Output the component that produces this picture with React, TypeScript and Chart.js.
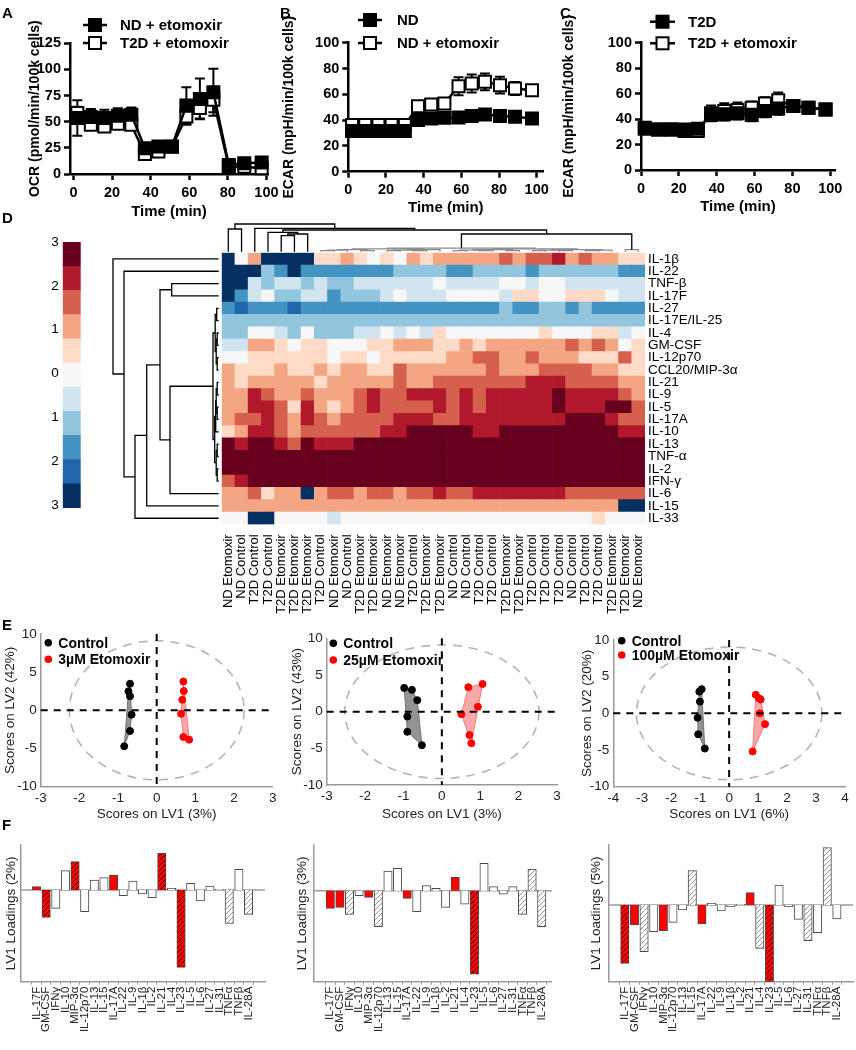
import React, { useEffect, useRef } from "react";
import { Chart, registerables } from "chart.js";

Chart.register(...registerables);

const FONT = "'Liberation Sans', Arial, Helvetica, sans-serif";
Chart.defaults.font.family = FONT;
Chart.defaults.color = "#000";

// ---------------- Panels A–C ----------------
const timeMin = [2, 9, 16, 23, 30, 37, 44, 51, 58.5, 65.5, 72.5, 80.5, 88.5, 97.5];
const timeTicks = [0, 20, 40, 60, 80, 100];
const ocrNdEto = [53.5, 54.6, 53.5, 55.8, 56.7, 24.7, 26.3, 26.3, 65.4, 71.8, 78.2, 8.7, 10.3, 10.9];
const ocrNdEtoErr = [17, 7.5, 8, 7, 7, 3, 2, 2, 17.5, 19.5, 22.5, 2, 2, 3];
const ocrT2dEto = [58.3, 47.1, 45.5, 48, 47, 19.2, 21.5, 26, 55, 63.1, 71, 7, 7, 5.5];
const ocrT2dEtoErr = [6, 4, 4, 4, 4, 3, 3, 2, 8, 10, 12, 2, 2, 3];
const ecarNd = [31.5, 31.5, 31.5, 31.5, 31.5, 40, 41.3, 41.8, 42, 43.1, 44.4, 43.1, 42.6, 41.3];
const ecarNdErr = [2, 2, 2, 2, 2, 2, 2, 2, 2, 2, 2, 2, 2, 2];
const ecarNdEto = [36.1, 36.1, 36.1, 36.1, 36.1, 50.8, 52.1, 52.9, 66.3, 68.4, 69.7, 67.1, 64.5, 63.2];
const ecarNdEtoErr = [2, 2, 2, 2, 2, 4, 3, 3, 7, 7, 6.5, 6.5, 5, 3];
const ecarT2d = [33.1, 31.8, 31.8, 31.8, 32.4, 43.3, 43.8, 44.6, 43.3, 46.4, 48.4, 50.2, 48.9, 47.6];
const ecarT2dErr = [3, 2, 2, 2, 2, 5, 5, 5, 5, 5, 5, 3, 3, 3];
const ecarT2dEto = [32.4, 31.8, 31.8, 30.6, 30.6, 44.6, 46.4, 47.1, 48.9, 52.2, 54.8, 50.2, 48.9, 47.6];
const ecarT2dEtoErr = [3, 2, 2, 3, 3, 6, 6, 6, 5, 5, 6, 3, 3, 3];

// ---------------- Panel D ----------------
const heatCols = [
  "ND Etomoxir", "ND Control", "T2D Control", "T2D Control", "T2D Etomoxir", "T2D Etomoxir",
  "T2D Etomoxir", "T2D Control", "ND Etomoxir", "ND Control", "T2D Etomoxir", "T2D Etomoxir",
  "ND Etomoxir", "ND Etomoxir", "T2D Control", "T2D Etomoxir", "T2D Etomoxir", "ND Control",
  "ND Control", "T2D Control", "T2D Control", "T2D Etomoxir", "T2D Etomoxir", "T2D Control",
  "T2D Control", "T2D Control", "ND Control", "T2D Control", "T2D Control", "T2D Etomoxir",
  "T2D Etomoxir", "ND Etomoxir",
];
const heatRowNames = [
  "IL-1β", "IL-22", "TNF-β", "IL-17F", "IL-27", "IL-17E/IL-25", "IL-4", "GM-CSF", "IL-12p70",
  "CCL20/MIP-3α", "IL-21", "IL-9", "IL-5", "IL-17A", "IL-10", "IL-13", "TNF-α", "IL-2", "IFN-γ",
  "IL-6", "IL-15", "IL-33",
];
// colour class per cell: 0 = -3 (dark blue) ... 5 = 0 ... A = +3 (dark red)
const heatLevels = [
  "05700006676565767777787889787766",
  "00032022222223333223333233333322",
  "00434434334444445444455455444444",
  "02453344233345444555546655666544",
  "21222122222222222222232233232222",
  "33333333333333333333333333333333",
  "33554353334454546555555565556645",
  "44776566555667776676777777878756",
  "55666666566566666778877877766686",
  "76667667677668777777877788887766",
  "76777776777778778888888999888877",
  "7798778777898899989899999A999987",
  "7799869767898888989899999A999AA8",
  "78898798788889998899999999AAA988",
  "67998788888899AAAAA99AAAAAAAAA99",
  "A9AA98A999AAAAAAAAAAAAAAAAAAAAAA",
  "AAAAAAAAAAAAAAAAAAAAAAAAAAAAAAAA",
  "AAAAAAAAAAAAAAAAAAAAAAAAAAAAAAAA",
  "89AAAAAAAAAAAAAAAAAAAAAAAAAAAAAA",
  "77867707887887889889999999888888",
  "77777777777777777777777777777700",
  "55005555455555555555555555556555",
];
const heatPalette = [
  "#053061", "#2166ac", "#4393c3", "#92c5de", "#d1e5f0", "#f7f7f7",
  "#fddbc7", "#f4a582", "#d6604d", "#b2182b", "#67001f",
];
const colorbarMin = -3.07;
const colorbarMax = 3;
const colorbarTicks = [3, 2, 1, 0, -1, -2, -3];
// dendrogram linkages: [childA, childB, height]; ids >= leaf count are earlier links
const colLinks: [number, number, number][] = [
  [0, 1, 22.7], [4, 5, 16], [33, 6, 17.7], [3, 34, 19.4],
  [7, 8, 1], [36, 9, 1.5], [10, 11, 1], [37, 38, 2], [12, 13, 1], [14, 15, 1],
  [40, 41, 1.5], [42, 16, 2], [39, 43, 2.8],
  [17, 18, 1], [19, 20, 1], [45, 46, 1.5], [21, 22, 1], [47, 48, 2], [23, 24, 1],
  [25, 26, 1], [50, 51, 1.5], [27, 28, 1], [53, 29, 1.5], [52, 54, 2], [49, 55, 2.8],
  [44, 56, 3.5], [30, 31, 2], [57, 58, 17.7], [35, 59, 21.7], [2, 60, 23.4], [32, 61, 27.7],
];
const rowLinks: [number, number, number][] = [
  [2, 3, 47], [4, 5, 2], [6, 7, 1.5], [8, 9, 1.5], [24, 25, 2.5], [23, 26, 3.5],
  [10, 11, 1.5], [12, 13, 1.5], [28, 29, 2.5], [30, 14, 3], [15, 16, 1.5], [17, 18, 1.5],
  [32, 33, 2.5], [31, 34, 4], [27, 35, 5.7], [36, 19, 48.7], [22, 37, 58.7],
  [38, 20, 72], [39, 21, 83.7], [1, 40, 94.7], [0, 41, 105.7],
];

// ---------------- Panel E ----------------
const e1Control = [[-0.69, 3.49], [-0.73, 2.5], [-0.69, 1.85], [-0.65, -0.57], [-0.69, -2.7], [-0.84, -4.7]];
const e1Etomoxir = [[0.69, 3.78], [0.7, 2.52], [0.66, 1.39], [0.63, -0.44], [0.69, -3.5], [0.84, -3.84]];
const e2Control = [[-0.98, 3.24], [-0.78, 2.97], [-0.64, 1.56], [-0.9, -0.67], [-0.9, -2.75], [-0.52, -4.57]];
const e2Etomoxir = [[0.51, -0.36], [0.69, 3.33], [1.06, 3.77], [0.94, 0.67], [0.72, -3.2], [0.77, -4.3]];
const e3Control = [[-0.95, 3.3], [-1.03, 2.96], [-1.01, 1.6], [-1.09, -0.6], [-1.07, -2.85], [-0.84, -4.8]];
const e3Etomoxir = [[0.92, 2.53], [1.03, 2.05], [1.09, 1.9], [1.06, 0], [1.24, -1.47], [0.81, -5.19]];
const ellipseRx = [2.26, 2.53, 3.2];
const ellipseRy = [9.1, 9.1, 9.05];

// ---------------- Panel F ----------------
const fCats = [
  "IL-17F", "GM-CSF", "IFNγ", "IL-10", "MIP-3α", "IL-12p70", "IL-13", "IL-15", "IL-17A",
  "IL-22", "IL-9", "IL-1β", "IL-2", "IL-21", "IL-4", "IL-23", "IL-5", "IL-6", "IL-27",
  "IL-31", "TNFα", "TNFβ", "IL-28A",
];
const f1Vals = [0.017, -0.137, -0.092, 0.097, 0.142, -0.108, 0.05, 0.062, 0.075, -0.028, 0.045, -0.02, -0.038, 0.183, 0.008, -0.387, 0.033, -0.055, 0.02, 0.003, -0.167, 0.103, -0.122];
const f2Vals = [-0.088, -0.083, -0.118, -0.025, -0.033, -0.18, 0.098, 0.112, -0.038, -0.105, 0.025, 0.012, -0.083, 0.067, -0.067, -0.417, 0.137, 0.02, -0.017, 0.02, -0.118, 0.108, -0.18];
const f3Vals = [-0.292, -0.1, -0.233, -0.133, -0.128, -0.087, -0.025, 0.172, -0.095, 0.008, -0.03, -0.008, 0.003, 0.062, -0.217, -0.383, 0.1, -0.008, -0.072, -0.178, -0.138, 0.287, -0.07];
// r = red, R = red hatched, w = white, g = grey hatched
const f1Style = "rRwwRwwwrwwwwRwRwwwwgwg";
const f2Style = "rrgwrgwwrwwwwrwRwwwwggg";
const f3Style = "RrgwrwwgrwwwwrgRwwwgwgw";

// ---------------- helpers ----------------
const fixW = (w: number) => (s: any) => { s.width = w; };
const fixH = (h: number) => (s: any) => { s.height = h; };

function ChartCanvas({ x, y, w, h, config }: { x: number; y: number; w: number; h: number; config: () => any }) {
  const ref = useRef<HTMLCanvasElement>(null);
  useEffect(() => {
    const chart = new Chart(ref.current as HTMLCanvasElement, config());
    return () => chart.destroy();
  }, []);
  return (
    <canvas ref={ref} width={w} height={h}
      style={{ position: "absolute", left: x, top: y, width: w, height: h }} />
  );
}

// ---------- line panels ----------
interface Series { label: string; values: number[]; err: number[]; filled: boolean }
function linePanel(o: any) {
  const series: Series[] = o.series;
  const errPlugin = {
    id: "errbars",
    beforeDatasetsDraw(chart: any) {
      const { ctx } = chart;
      const xs = chart.scales.x, ys = chart.scales.y;
      ctx.save();
      ctx.strokeStyle = "#000";
      ctx.lineWidth = 2;
      series.forEach((s) => s.values.forEach((v, i) => {
        const px = xs.getPixelForValue(timeMin[i]);
        const t = ys.getPixelForValue(v + s.err[i]);
        const b = ys.getPixelForValue(v - s.err[i]);
        ctx.beginPath();
        ctx.moveTo(px, t); ctx.lineTo(px, b);
        ctx.moveTo(px - 5, t); ctx.lineTo(px + 5, t);
        ctx.moveTo(px - 5, b); ctx.lineTo(px + 5, b);
        ctx.stroke();
      }));
      ctx.restore();
    },
  };
  const legendPlugin = {
    id: "lg",
    afterDraw(chart: any) {
      const { ctx } = chart;
      ctx.save();
      series.forEach((s, k) => {
        const y = o.legendY[k];
        ctx.strokeStyle = "#000";
        ctx.lineWidth = 2.5;
        ctx.beginPath(); ctx.moveTo(o.lx1, y); ctx.lineTo(o.lx2, y); ctx.stroke();
        const m = (o.lx1 + o.lx2) / 2;
        ctx.fillStyle = s.filled ? "#000" : "#fff";
        ctx.lineWidth = 2;
        ctx.fillRect(m - 6, y - 6, 12, 12);
        ctx.strokeRect(m - 6, y - 6, 12, 12);
        ctx.fillStyle = "#000";
        ctx.font = `bold 15px ${FONT}`;
        ctx.textAlign = "left";
        ctx.textBaseline = "middle";
        ctx.fillText(s.label, o.ltx, y + 1);
      });
      ctx.restore();
    },
  };
  const axisGrid = { display: true, drawOnChartArea: false, drawTicks: true, tickLength: 6, tickWidth: 2.5, tickColor: "#000", color: "#000" };
  const axisBorder = { display: true, color: "#000", width: 2.5 };
  return {
    type: "line",
    data: {
      datasets: series.map((s) => ({
        label: s.label,
        data: timeMin.map((t, i) => ({ x: t, y: s.values[i] })),
        borderColor: "#000", borderWidth: 2.5,
        pointStyle: "rect", pointRadius: 8.5,
        pointBackgroundColor: s.filled ? "#000" : "#fff",
        pointBorderColor: "#000", pointBorderWidth: 2,
        clip: false,
      })),
    },
    options: {
      responsive: false, animation: false, events: [],
      layout: { padding: { left: 0, top: o.areaTop, right: o.w - o.areaRight, bottom: 0 } },
      plugins: { legend: { display: false }, tooltip: { enabled: false } },
      scales: {
        x: {
          type: "linear", min: o.xMin, max: o.xMax,
          afterFit: fixH(o.h - o.areaBottom),
          afterBuildTicks: (a: any) => { a.ticks = timeTicks.map((v) => ({ value: v })); },
          grid: axisGrid, border: axisBorder,
          ticks: { font: { size: 14.5, weight: "bold" }, padding: 4, maxRotation: 0, autoSkip: false },
          title: { display: true, text: "Time (min)", font: { size: 15, weight: "bold" }, padding: { top: 0, bottom: o.xTitlePad } },
        },
        y: {
          type: "linear", min: 0, max: o.yMax,
          afterFit: fixW(o.axisLeft),
          grid: axisGrid, border: axisBorder,
          ticks: { stepSize: o.yStep, font: { size: 14.5, weight: "bold" }, padding: 3 },
          title: { display: true, text: o.yTitle, font: { size: 14, weight: "bold" }, padding: { top: o.yTitlePad, bottom: 0 } },
        },
      },
    },
    plugins: [errPlugin, legendPlugin],
  };
}

// ---------- heatmap ----------
function treeLayout(n: number, links: [number, number, number][]) {
  const pos: number[] = [];
  const hgt: number[] = [];
  for (let i = 0; i < n; i++) { pos[i] = i; hgt[i] = 0; }
  links.forEach(([a, b, h], k) => { pos[n + k] = (pos[a] + pos[b]) / 2; hgt[n + k] = h; });
  return { pos, hgt };
}

function heatConfig() {
  const nRows = heatRowNames.length;
  const datasets = heatLevels.map((row, r) => ({
    label: heatRowNames[r],
    data: heatCols.map(() => 1),
    backgroundColor: row.split("").map((ch) => heatPalette[ch === "A" ? 10 : Number(ch)]),
    borderWidth: 0,
    barPercentage: 1,
    categoryPercentage: 1,
  })).reverse();
  const dendro = {
    id: "dendro",
    afterDraw(chart: any) {
      const { ctx, chartArea: ca } = chart;
      const xs = chart.scales.x, ys = chart.scales.y;
      ctx.save();
      ctx.lineWidth = 1.3;
      const t = treeLayout(heatCols.length, colLinks);
      const ty = (h: number) => ca.top - 1 - h;
      colLinks.forEach(([a, b, h]) => {
        const xa = xs.getPixelForValue(t.pos[a]);
        const xb = xs.getPixelForValue(t.pos[b]);
        ctx.strokeStyle = h < 5 ? "#8a8a8a" : "#000";
        ctx.beginPath();
        ctx.moveTo(xa, ty(t.hgt[a])); ctx.lineTo(xa, ty(h));
        ctx.lineTo(xb, ty(h)); ctx.lineTo(xb, ty(t.hgt[b]));
        ctx.stroke();
      });
      ctx.strokeStyle = "#000";
      const l = treeLayout(nRows, rowLinks);
      const lx = (h: number) => ca.left - 3 - h;
      const ry = (p: number) => ys.getPixelForValue(nRows - 0.5 - p);
      rowLinks.forEach(([a, b, h]) => {
        const ya = ry(l.pos[a]);
        const yb = ry(l.pos[b]);
        ctx.beginPath();
        ctx.moveTo(lx(l.hgt[a]), ya); ctx.lineTo(lx(h), ya);
        ctx.lineTo(lx(h), yb); ctx.lineTo(lx(l.hgt[b]), yb);
        ctx.stroke();
      });
      ctx.restore();
    },
  };
  return {
    type: "bar",
    data: { labels: heatCols, datasets },
    options: {
      responsive: false, animation: false, events: [],
      layout: { padding: { left: 121.7, top: 57.7, right: 101, bottom: 0 } },
      plugins: { legend: { display: false }, tooltip: { enabled: false } },
      scales: {
        x: {
          stacked: true, offset: true, afterFit: fixH(95.6),
          grid: { display: false }, border: { display: false },
          ticks: { autoSkip: false, maxRotation: 90, minRotation: 90, font: { size: 13 }, padding: 2 },
        },
        y: {
          type: "linear", stacked: true, position: "right", min: 0, max: nRows,
          afterFit: fixW(110),
          afterBuildTicks: (a: any) => { a.ticks = heatRowNames.map((_, i) => ({ value: nRows - 0.5 - i })); },
          grid: { display: false, drawTicks: false }, border: { display: false },
          ticks: { autoSkip: false, font: { size: 13.5 }, padding: 3, callback: (v: number) => heatRowNames[Math.round(nRows - 0.5 - v)] },
        },
      },
    },
    plugins: [dendro],
  };
}

function colorbarConfig() {
  const step = (colorbarMax - colorbarMin) / heatPalette.length;
  return {
    type: "bar",
    data: {
      labels: [""],
      datasets: heatPalette.map((c, k) => ({
        data: [[colorbarMin + k * step, colorbarMin + (k + 1) * step]],
        backgroundColor: c, borderWidth: 0, grouped: false,
        barPercentage: 1, categoryPercentage: 1,
      })),
    },
    options: {
      responsive: false, animation: false, events: [],
      layout: { padding: { left: 0, top: 9.3, right: 9.3, bottom: 9.3 } },
      plugins: { legend: { display: false }, tooltip: { enabled: false } },
      scales: {
        x: { display: false },
        y: {
          min: colorbarMin, max: colorbarMax, afterFit: fixW(32.7),
          afterBuildTicks: (a: any) => { a.ticks = colorbarTicks.map((v) => ({ value: v })); },
          grid: { display: false, drawTicks: false }, border: { display: false },
          ticks: { font: { size: 13.5 }, padding: 4, callback: (v: number) => String(Math.abs(v)) },
        },
      },
    },
  };
}

// ---------- scores (E) ----------
function convexHull(pts: number[][]) {
  const p = pts.slice().sort((a, b) => a[0] - b[0] || a[1] - b[1]);
  const cross = (o: number[], a: number[], b: number[]) => (a[0] - o[0]) * (b[1] - o[1]) - (a[1] - o[1]) * (b[0] - o[0]);
  const lower: number[][] = [];
  for (const q of p) {
    while (lower.length >= 2 && cross(lower[lower.length - 2], lower[lower.length - 1], q) <= 0) lower.pop();
    lower.push(q);
  }
  const upper: number[][] = [];
  for (const q of p.slice().reverse()) {
    while (upper.length >= 2 && cross(upper[upper.length - 2], upper[upper.length - 1], q) <= 0) upper.pop();
    upper.push(q);
  }
  upper.pop(); lower.pop();
  const h = lower.concat(upper);
  h.push(h[0]);
  return h.map(([x, y]) => ({ x, y }));
}

function scoresConfig(o: any) {
  const gray = "#9a9a9a";
  const overlay = {
    id: "ov",
    beforeDatasetsDraw(chart: any) {
      const { ctx } = chart;
      const xs = chart.scales.x, ys = chart.scales.y;
      const cx = xs.getPixelForValue(0), cy = ys.getPixelForValue(0);
      const rx = xs.getPixelForValue(o.rx) - cx, ry = cy - ys.getPixelForValue(o.ry);
      ctx.save();
      ctx.strokeStyle = "#b0b0b0";
      ctx.lineWidth = 1.5;
      ctx.setLineDash([9, 7]);
      ctx.beginPath(); ctx.ellipse(cx, cy, rx, ry, 0, 0, Math.PI * 2); ctx.stroke();
      ctx.restore();
    },
    afterDatasetsDraw(chart: any) {
      const { ctx, chartArea: ca } = chart;
      const xs = chart.scales.x, ys = chart.scales.y;
      const cx = xs.getPixelForValue(0), cy = ys.getPixelForValue(0);
      ctx.save();
      ctx.strokeStyle = "#000";
      ctx.lineWidth = 2;
      ctx.setLineDash([7, 6]);
      ctx.beginPath(); ctx.moveTo(ca.left, cy); ctx.lineTo(ca.right, cy); ctx.stroke();
      ctx.beginPath(); ctx.moveTo(cx, ca.top); ctx.lineTo(cx, ca.bottom); ctx.stroke();
      ctx.restore();
    },
    afterDraw(chart: any) {
      const { ctx } = chart;
      ctx.save();
      [["Control", "#000"], [o.etoLabel, "#ff0000"]].forEach(([txt, col], k) => {
        const y = o.legY[k];
        ctx.fillStyle = col;
        ctx.beginPath(); ctx.arc(o.legX, y, 3.8, 0, Math.PI * 2); ctx.fill();
        ctx.fillStyle = "#000";
        ctx.font = `bold 14px ${FONT}`;
        ctx.textAlign = "left"; ctx.textBaseline = "middle";
        ctx.fillText(txt, o.legX + 10, y + 1);
      });
      ctx.restore();
    },
  };
  const axisFont = { size: 13.5 };
  return {
    type: "scatter",
    data: {
      datasets: [
        { data: o.ctrl.map(([x, y]: number[]) => ({ x, y })), backgroundColor: "#000", borderColor: "#000", pointRadius: 3.5, order: 0 },
        { data: o.eto.map(([x, y]: number[]) => ({ x, y })), backgroundColor: "#ff0000", borderColor: "#ff0000", pointRadius: 3.5, order: 0 },
        { type: "line", data: convexHull(o.ctrl), showLine: true, fill: "shape", backgroundColor: "rgba(120,120,120,0.8)", borderColor: "rgba(110,110,110,0.9)", borderWidth: 1, pointRadius: 0, order: 1 },
        { type: "line", data: convexHull(o.eto), showLine: true, fill: "shape", backgroundColor: "rgba(245,110,110,0.6)", borderColor: "rgba(240,100,100,0.8)", borderWidth: 1, pointRadius: 0, order: 1 },
      ],
    },
    options: {
      responsive: false, animation: false, events: [],
      layout: { padding: { left: 0, top: o.padTop, right: o.padRight, bottom: 0 } },
      plugins: { legend: { display: false }, tooltip: { enabled: false } },
      scales: {
        x: {
          type: "linear", min: o.xMin, max: o.xMax, afterFit: fixH(o.xH),
          grid: { display: false, drawTicks: false }, border: { display: true, color: gray, width: 1.5 },
          ticks: { stepSize: 1, font: axisFont, padding: 3, color: "#222" },
          title: { display: true, text: o.xTitle, font: axisFont, padding: { top: 0, bottom: 7.9 }, color: "#222" },
        },
        y: {
          type: "linear", min: -10, max: 10, afterFit: fixW(o.yW),
          grid: { display: false, drawTicks: false }, border: { display: true, color: gray, width: 1.5 },
          ticks: { stepSize: 5, font: axisFont, padding: 4, color: "#222" },
          title: { display: true, text: o.yTitle, font: axisFont, padding: { top: o.yTitlePad, bottom: 0 }, color: "#222" },
        },
      },
    },
    plugins: [overlay],
  };
}

// ---------- loadings (F) ----------
function makeHatch(bg: string, line: string) {
  const c = document.createElement("canvas");
  c.width = 5; c.height = 5;
  const g = c.getContext("2d") as CanvasRenderingContext2D;
  g.fillStyle = bg; g.fillRect(0, 0, 5, 5);
  g.strokeStyle = line; g.lineWidth = 0.9;
  g.beginPath();
  g.moveTo(-1, 6); g.lineTo(6, -1);
  g.moveTo(-1, 1); g.lineTo(1, -1);
  g.moveTo(4, 6); g.lineTo(6, 4);
  g.stroke();
  return g.createPattern(c, "repeat");
}

function loadingsConfig(o: any) {
  const gray = "#9a9a9a";
  const fills: any = {
    r: "#ff0000",
    R: makeHatch("#ff0000", "#3a0000"),
    w: "#ffffff",
    g: makeHatch("#ffffff", "#8a8a8a"),
  };
  const zero = {
    id: "zero",
    beforeDatasetsDraw(chart: any) {
      const { ctx, chartArea: ca } = chart;
      const y0 = chart.scales.y.getPixelForValue(0);
      ctx.save();
      ctx.strokeStyle = gray; ctx.lineWidth = 1.5;
      ctx.beginPath(); ctx.moveTo(ca.left, y0); ctx.lineTo(ca.right, y0); ctx.stroke();
      ctx.restore();
    },
  };
  return {
    type: "bar",
    data: {
      datasets: [{
        data: o.vals.map((v: number, i: number) => ({ x: i, y: v })),
        backgroundColor: o.style.split("").map((c: string) => fills[c]),
        borderColor: "#4a4a4a", borderWidth: 1, barThickness: 8.4,
      }],
    },
    options: {
      responsive: false, animation: false, events: [],
      layout: { padding: { left: 0, top: 10, right: o.padRight, bottom: 0 } },
      plugins: { legend: { display: false }, tooltip: { enabled: false } },
      scales: {
        x: {
          type: "linear", min: o.xMin, max: o.xMax, afterFit: fixH(68.3),
          afterBuildTicks: (a: any) => { a.ticks = fCats.map((_, i) => ({ value: i })); },
          grid: { display: true, drawOnChartArea: false, drawTicks: true, tickLength: 3, color: gray },
          border: { display: true, color: gray, width: 1.5 },
          ticks: { autoSkip: false, maxRotation: 90, minRotation: 90, font: { size: 11.5 }, padding: 2, color: "#222", callback: (v: number) => fCats[v] },
        },
        y: {
          type: "linear", min: o.yMin, max: o.yMax, afterFit: fixW(o.yW),
          grid: { display: false, drawTicks: false }, border: { display: true, color: gray, width: 1.5 },
          ticks: { display: false },
          title: { display: true, text: o.yTitle, font: { size: 13.5 }, padding: { top: o.yTitlePad, bottom: 0 }, color: "#222" },
        },
      },
    },
    plugins: [zero],
  };
}

// ---------------- App ----------------
const letterStyle = (left: number, top: number): React.CSSProperties => ({
  position: "absolute", left, top, font: `bold 15px ${FONT}`, lineHeight: "15px", color: "#000",
});

export default function App() {
  return (
    <div style={{ position: "absolute", left: 0, top: 0, width: 856, height: 1050, background: "#fff", overflow: "hidden" }}>
      <ChartCanvas x={0} y={0} w={285} h={222} config={() => linePanel({
        w: 285, h: 222, axisLeft: 70, areaTop: 43.3, areaRight: 268, areaBottom: 174,
        xMin: -1.8, xMax: 100.8, yMax: 125, yStep: 25, yTitle: "OCR (pmol/min/100k cells)", yTitlePad: 27,
        xTitlePad: 1,
        series: [
          { label: "ND + etomoxir", values: ocrNdEto, err: ocrNdEtoErr, filled: true },
          { label: "T2D + etomoxir", values: ocrT2dEto, err: ocrT2dEtoErr, filled: false },
        ],
        lx1: 83, lx2: 107, ltx: 120, legendY: [25, 43],
      })} />
      <ChartCanvas x={278} y={0} w={292} h={222} config={() => linePanel({
        w: 292, h: 222, axisLeft: 70.3, areaTop: 42.7, areaRight: 265.3, areaBottom: 171.7,
        xMin: 0, xMax: 103.5, yMax: 100, yStep: 20, yTitle: "ECAR (mpH/min/100k cells)", yTitlePad: 2.6,
        xTitlePad: 5,
        series: [
          { label: "ND", values: ecarNd, err: ecarNdErr, filled: true },
          { label: "ND + etomoxir", values: ecarNdEto, err: ecarNdEtoErr, filled: false },
        ],
        lx1: 80, lx2: 104, ltx: 119, legendY: [20, 43],
      })} />
      <ChartCanvas x={558} y={0} w={298} h={222} config={() => linePanel({
        w: 298, h: 222, axisLeft: 83, areaTop: 42.7, areaRight: 277, areaBottom: 170,
        xMin: 0, xMax: 102.5, yMax: 100, yStep: 20, yTitle: "ECAR (mpH/min/100k cells)", yTitlePad: 2.6,
        xTitlePad: 6,
        series: [
          { label: "T2D", values: ecarT2d, err: ecarT2dErr, filled: true },
          { label: "T2D + etomoxir", values: ecarT2dEto, err: ecarT2dEtoErr, filled: false },
        ],
        lx1: 92, lx2: 117, ltx: 130, legendY: [21.7, 43.3],
      })} />

      <ChartCanvas x={30} y={230} w={60} h={290} config={colorbarConfig} />
      <ChartCanvas x={100} y={195} w={756} h={425} config={heatConfig} />

      <ChartCanvas x={0} y={615} w={290} h={215} config={() => scoresConfig({
        ctrl: e1Control, eto: e1Etomoxir, etoLabel: "3µM Etomoxir", rx: ellipseRx[0], ry: ellipseRy[0],
        xMin: -3, xMax: 3, padTop: 19, padRight: 17.3, xH: 43.3, yW: 40.7, yTitlePad: 1.9,
        xTitle: "Scores on LV1 (3%)", yTitle: "Scores on LV2 (42%)", legX: 48.3, legY: [27.7, 44.3],
      })} />
      <ChartCanvas x={286} y={615} w={290} h={215} config={() => scoresConfig({
        ctrl: e2Control, eto: e2Etomoxir, etoLabel: "25µM Etomoxir", rx: ellipseRx[1], ry: ellipseRy[1],
        xMin: -3, xMax: 3, padTop: 23.3, padRight: 19, xH: 45, yW: 40.7, yTitlePad: 3.4,
        xTitle: "Scores on LV1 (3%)", yTitle: "Scores on LV2 (43%)", legX: 47.3, legY: [28.3, 45],
      })} />
      <ChartCanvas x={572} y={615} w={284} h={215} config={() => scoresConfig({
        ctrl: e3Control, eto: e3Etomoxir, etoLabel: "100µM Etomoxir", rx: ellipseRx[2], ry: ellipseRy[2],
        xMin: -4, xMax: 4, padTop: 25, padRight: 11, xH: 43.3, yW: 41.3, yTitlePad: 7.4,
        xTitle: "Scores on LV1 (6%)", yTitle: "Scores on LV2 (20%)", legX: 49.7, legY: [25.7, 40],
      })} />

      <ChartCanvas x={0} y={835} w={290} h={215} config={() => loadingsConfig({
        vals: f1Vals, style: f1Style, xMin: -1.09, xMax: 23.16, yMin: -0.4585, yMax: 0.225,
        padRight: 25, yW: 20.7, yTitlePad: 2.9, yTitle: "LV1 Loadings (2%)",
      })} />
      <ChartCanvas x={290} y={835} w={285} h={215} config={() => loadingsConfig({
        vals: f2Vals, style: f2Style, xMin: -1.23, xMax: 22.5, yMin: -0.455, yMax: 0.2285,
        padRight: 23.3, yW: 23.3, yTitlePad: 4.4, yTitle: "LV1 Loadings (3%)",
      })} />
      <ChartCanvas x={575} y={835} w={281} h={215} config={() => loadingsConfig({
        vals: f3Vals, style: f3Style, xMin: -1.16, xMax: 23.12, yMin: -0.3835, yMax: 0.3,
        padRight: 3, yW: 33.3, yTitlePad: 13.6, yTitle: "LV1 Loadings (5%)",
      })} />

      <div style={letterStyle(2, 5)}>A</div>
      <div style={letterStyle(280, 5)}>B</div>
      <div style={letterStyle(560, 5)}>C</div>
      <div style={letterStyle(2, 210)}>D</div>
      <div style={letterStyle(2, 617)}>E</div>
      <div style={letterStyle(2, 817)}>F</div>
    </div>
  );
}
